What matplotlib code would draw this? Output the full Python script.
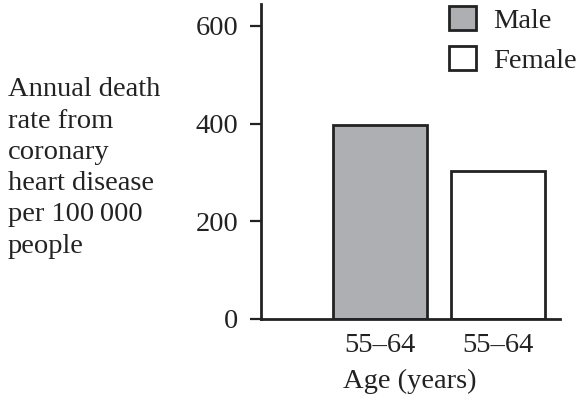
import numpy as np
import matplotlib
matplotlib.use("Agg")
from matplotlib import pyplot as plt

# data
groups = ["Male", "Female"]
age_labels = ["55\u201364", "55\u201364"]
rates = [397, 303]
bar_pos = [0.399, 0.792]
colors = ["#aeafb3", "white"]
yticks = [0, 200, 400, 600]

plt.rcParams['font.family'] = ['Liberation Serif', 'DejaVu Serif']
plt.rcParams['font.size'] = 20.5

fig = plt.figure(figsize=(5.79, 4), dpi=100)
ax = fig.add_axes([0.450, 0.203, 0.517, 0.787])

for i in range(len(groups)):
    ax.bar(bar_pos[i], rates[i], width=0.314, color=colors[i],
           edgecolor="#222222", linewidth=2, label=groups[i])

ax.set_xlim(0, 1)
ax.set_ylim(0, 645)
ax.set_yticks(yticks)
ax.set_xticks(bar_pos)
ax.set_xticklabels(age_labels)
ax.tick_params(axis="x", length=0, pad=10, colors="#222222")
ax.tick_params(axis="y", length=8, width=1.6, pad=8, colors="#222222")

for s in ["top", "right"]:
    ax.spines[s].set_visible(False)
for s in ["left", "bottom"]:
    ax.spines[s].set_linewidth(2)
    ax.spines[s].set_color("#222222")

ax.set_xlabel("Age (years)", labelpad=8, color="#222222")

fig.text(8/579, 1 - 168/400,
         "Annual death\nrate from\ncoronary\nheart disease\nper 100\u2009000\npeople",
         ha="left", va="center", linespacing=1.33, color="#222222")

leg = ax.legend(loc="upper left", bbox_to_anchor=(0.628, 0.995), frameon=False,
                handlelength=0.95, handleheight=0.95, handletextpad=0.6,
                labelspacing=0.42, borderpad=0, borderaxespad=0)
for t in leg.get_texts():
    t.set_color("#222222")

plt.savefig("out.png", dpi=100)
